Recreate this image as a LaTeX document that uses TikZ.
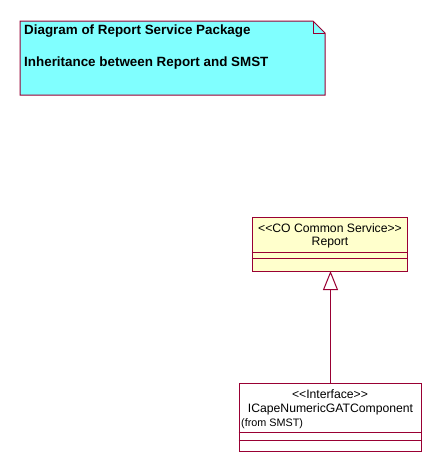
\documentclass[tikz,border=0pt]{standalone}
\usepackage{fontspec}
\setmainfont{Liberation Sans}[Ligatures=NoCommon]
\usetikzlibrary{arrows.meta}
\definecolor{umlline}{RGB}{153,0,51}
\definecolor{notefill}{RGB}{128,255,255}
\definecolor{classfill}{RGB}{255,255,204}
\tikzset{
  umlbox/.style={draw=umlline, line width=1pt, rectangle, inner sep=0pt},
  txt/.style={inner sep=0pt, text=black},
  big/.style={font=\fontsize{12.2}{14}\selectfont},
  small/.style={font=\fontsize{10.8}{12}\selectfont},
  notetxt/.style={font=\fontsize{13.4}{15}\selectfont\bfseries},
}
\begin{document}
\begin{tikzpicture}[x=1pt,y=-1pt]
\useasboundingbox (0,0) rectangle (442,474);
% note
\draw[umlline, line width=1pt, fill=notefill] (20,21) -- (313,21) -- (325,33) -- (325,95) -- (20,95) -- cycle;
\draw[umlline, line width=1pt] (313,21) -- (313,33) -- (325,33);
\node[txt, notetxt, anchor=west] (n1) at (24,31) {Diagram of Report Service Package};
\node[txt, notetxt, anchor=west] (n2) at (24,63) {Inheritance between Report and SMST};
% Report class
\node[umlbox, fill=classfill, minimum width=155pt, minimum height=54pt] (report) at (329.5,244) {};
\node[txt, big] (rst) at (330,228) {{<}{<}CO Common Service{>}{>}};
\node[txt, big] (rname) at (330,243) {Report};
\draw[umlline, line width=1pt] (report.west |- 0,252) -- (report.east |- 0,252);
\draw[umlline, line width=1pt] (report.west |- 0,258) -- (report.east |- 0,258);
% Interface class
\node[umlbox, fill=white, minimum width=182pt, minimum height=68pt] (iface) at (330,417) {};
\node[txt, big] (ist) at (330,394) {{<}{<}Interface{>}{>}};
\node[txt, big] (iname) at (330.5,409) {ICapeNumericGATComponent};
\node[txt, small, anchor=west] (ifrom) at (241,424) {(from SMST)};
\draw[umlline, line width=1pt] (iface.west |- 0,432) -- (iface.east |- 0,432);
\draw[umlline, line width=1pt] (iface.west |- 0,440) -- (iface.east |- 0,440);
% generalization
\coordinate (tip) at (330.5,271);
\coordinate (start) at (330.5,383);
\draw[umlline, line width=1pt, -{Triangle[open, length=19pt, width=15pt, fill=white]}] (start) -- (tip);
\end{tikzpicture}
\end{document}
